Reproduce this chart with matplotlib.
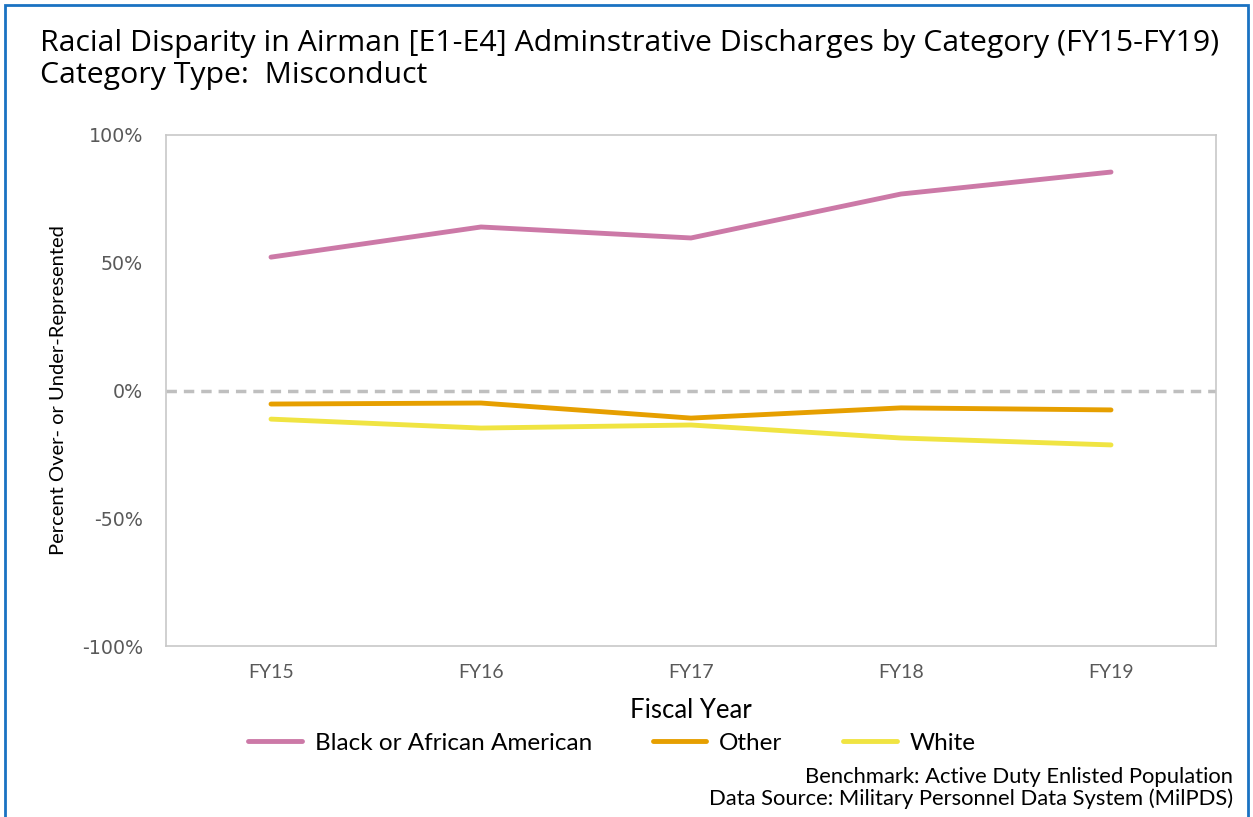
import matplotlib
matplotlib.use("Agg")
import matplotlib.pyplot as plt
from matplotlib.patches import Rectangle
from matplotlib.ticker import FuncFormatter

# data
years = ["FY15", "FY16", "FY17", "FY18", "FY19"]
black = [52.2, 64.0, 59.7, 76.9, 85.5]
other = [-5.3, -4.9, -10.8, -6.8, -7.6]
white = [-11.2, -14.7, -13.5, -18.6, -21.3]

series_names = ["Black or African American", "Other", "White"]
colors = ["#cc79a7", "#e69f00", "#f0e442"]

plt.rcParams['font.family'] = ['Lato', 'DejaVu Sans']

fig = plt.figure(figsize=(12.53, 8.17), dpi=100)
# axes box in pixels: left 166, right 1216, top 135, bottom 646
W, H = 1253, 817
ax = fig.add_axes([166 / W, 1 - 646 / H, (1216 - 166) / W, (646 - 135) / H])

x = list(range(len(years)))
for vals, name, c in zip([black, other, white], series_names, colors):
    ax.plot(x, vals, color=c, lw=3.5, label=name, solid_capstyle='round')

ax.axhline(0, color="#bfbfbf", lw=2.5, ls=(0, (3, 2)), zorder=0)

ax.set_xlim(-0.5, 4.5)
ax.set_ylim(-100, 100)
ax.set_yticks([-100, -50, 0, 50, 100])
ax.yaxis.set_major_formatter(FuncFormatter(lambda v, p: "%d%%" % v))
ax.set_xticks(x)
ax.set_xticklabels(years)
ax.tick_params(length=0)
ax.tick_params(axis='y', labelsize=13.7, labelcolor="#595959", pad=16.5)
ax.tick_params(axis='x', labelsize=14, labelcolor="#595959", pad=13)
for lab in ax.get_yticklabels():
    lab.set_family('DejaVu Sans')
for s in ax.spines.values():
    s.set_color("#c8c8c8")
    s.set_linewidth(1.2)

ax.set_xlabel("Fiscal Year", fontsize=18.5, labelpad=12)
ax.set_ylabel("Percent Over- or Under-Represented", fontsize=14.5, labelpad=10.5)

title_font = ['Open Sans', 'DejaVu Sans']
fig.text(40 / W, 1 - 43 / H,
         "Racial Disparity in Airman [E1-E4] Adminstrative Discharges by Category (FY15-FY19)",
         fontsize=21.8, va='center', ha='left', family=title_font)
fig.text(40 / W, 1 - 75 / H, "Category Type:  Misconduct",
         fontsize=21.8, va='center', ha='left', family=title_font)

fig.legend(loc='center', bbox_to_anchor=(612 / W, 1 - 743 / H), ncol=3,
           frameon=False, fontsize=17.5, handlelength=2.2, columnspacing=2.5,
           handletextpad=0.53)

fig.text(1233 / W, 1 - 777 / H, "Benchmark: Active Duty Enlisted Population",
         fontsize=15.8, ha='right', va='center')
fig.text(1233 / W, 1 - 799 / H, "Data Source: Military Personnel Data System (MilPDS)",
         fontsize=15.8, ha='right', va='center')

fig.patches.append(Rectangle((5 / W, -0.01), 1 - 10 / W, 1 - 5 / H + 0.01,
                             transform=fig.transFigure, fill=False,
                             edgecolor="#1a72c2", lw=2))

fig.savefig("out.png", dpi=100)
